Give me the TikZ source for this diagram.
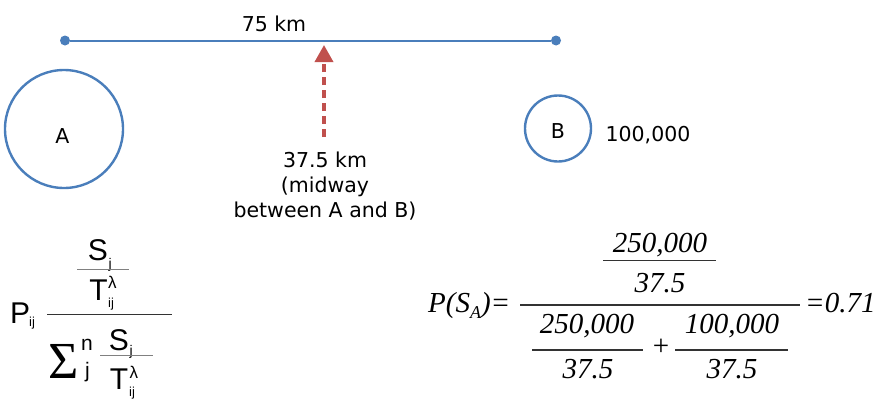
\documentclass[tikz,border=0pt]{standalone}
\usepackage{fontspec}
\setmainfont{DejaVu Sans}
\newfontfamily\arialf{Liberation Sans}
\newfontfamily\timesf{Liberation Serif}
\usetikzlibrary{arrows.meta}
\definecolor{lineblue}{HTML}{4A7EBB}
\definecolor{arrred}{HTML}{C0504D}
\definecolor{ruleg}{HTML}{333333}
\begin{document}
\begin{tikzpicture}[x=1pt,y=-1pt,
  lbl/.style={font=\fontsize{20.5}{25}\selectfont, inner sep=0pt, anchor=base},
  town/.style={circle, draw=lineblue, line width=2.4pt, inner sep=0pt, minimum size=#1},
  enddot/.style={circle, fill=lineblue, inner sep=0pt, minimum size=10pt},
  af/.style={inner sep=0pt, font=\arialf\fontsize{#1}{#1}\selectfont},
  tf/.style={inner sep=0pt, font=\timesf\itshape\fontsize{29}{29}\selectfont},
  fracrule/.style={draw=ruleg, line width=1.2pt},
  smallrule/.style={draw=gray, line width=1pt}
]
\useasboundingbox (0,0) rectangle (887,407);
% distance line
\node[enddot] (L) at (65,40.5) {};
\node[enddot] (R) at (556,40.5) {};
\draw[lineblue, line width=2pt] (L) -- (R);
\node[lbl] (dist) at (274,31) {75 km};
% towns
\node[town=118pt] (A) at (64,129) {};
\node[lbl] (Alab) at (62.5,143) {A};
\node[town=66pt] (B) at (558,128.5) {};
\node[lbl] (Blab) at (558,138) {B};
\node[lbl] (Bpop) at (648,141) {100,000};
% midpoint label and arrow
\node[lbl, align=center] (mid) at (325,217) {37.5 km\\(midway\\between A and B)};
\coordinate (tip) at (324,45);
\coordinate (tail) at ([yshift=14pt]mid.north -| tip);
\draw[arrred, line width=3.5pt, dash pattern=on 8pt off 5pt,
  -{Triangle[width=18pt,length=17pt]}] (tail) -- (tip);
% left general formula
\node[af=30, anchor=base west] (P) at (10,323) {P};
\node[af=13, anchor=base west] (Pij) at (29,326) {ij};
\node[af=30, anchor=base] (S1) at (98,260) {S};
\node[af=14, anchor=base west] (S1j) at (108.5,268) {j};
\coordinate (r1a) at (77,269.5); \coordinate (r1b) at (129,269.5);
\draw[smallrule] (r1a) -- (r1b);
\node[af=30, anchor=base] (T1) at (98.5,300) {T};
\node[af=17, anchor=base west] (T1l) at (108,288) {λ};
\node[af=13, anchor=base west] (T1ij) at (108,307) {ij};
\coordinate (r0a) at (47,314.5); \coordinate (r0b) at (172,314.5);
\draw[fracrule] (r0a) -- (r0b);
\node[inner sep=0pt, font=\timesf\fontsize{52}{52}\selectfont, anchor=base] (sig) at (63.5,378) {Σ};
\node[af=21, anchor=base west] (sn) at (81,350) {n};
\node[af=21, anchor=base west] (sj) at (85,377) {j};
\node[af=30, anchor=base] (S2) at (119,350) {S};
\node[af=14, anchor=base west] (S2j) at (129.5,355) {j};
\coordinate (r2a) at (100,355.7); \coordinate (r2b) at (153,355.7);
\draw[smallrule] (r2a) -- (r2b);
\node[af=30, anchor=base] (T2) at (119,389) {T};
\node[af=17, anchor=base west] (T2l) at (129.5,378) {λ};
\node[af=13, anchor=base west] (T2ij) at (129,396) {ij};
% right numeric formula
\node[tf, anchor=base west] (PS) at (428,312) {P(S\raisebox{-0.22em}{\fontsize{18}{18}\selectfont A})=};
\node[tf, anchor=base] (n1) at (660,252) {250,000};
\coordinate (q1a) at (603,260.7); \coordinate (q1b) at (716,260.7);
\draw[fracrule] (q1a) -- (q1b);
\node[tf, anchor=base] (d1) at (660,292) {37.5};
\coordinate (q0a) at (520,305); \coordinate (q0b) at (800,305);
\draw[fracrule] (q0a) -- (q0b);
\node[tf, anchor=base west] (res) at (805,312) {=0.71};
\node[tf, anchor=base] (n2) at (587,333) {250,000};
\coordinate (q2a) at (532,350); \coordinate (q2b) at (643,350);
\draw[fracrule] (q2a) -- (q2b);
\node[tf, anchor=base] (d2) at (588,378) {37.5};
\node[tf, font=\timesf\fontsize{29}{29}\selectfont] (plus) at (661,347) {+};
\node[tf, anchor=base] (n3) at (732,333) {100,000};
\coordinate (q3a) at (675,350); \coordinate (q3b) at (788,350);
\draw[fracrule] (q3a) -- (q3b);
\node[tf, anchor=base] (d3) at (732,378) {37.5};
\end{tikzpicture}
\end{document}
